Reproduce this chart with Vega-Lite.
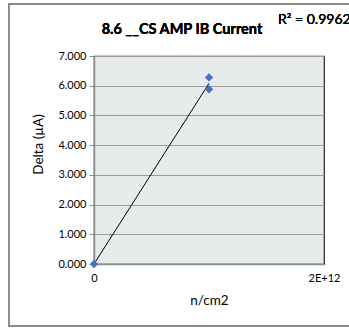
{
  "$schema": "https://vega.github.io/schema/vega-lite/v6.json",
  "autosize": "none",
  "width": 230,
  "height": 208,
  "padding": {"left": 94, "top": 56, "right": 25, "bottom": 71},
  "background": "white",
  "config": {
    "font": "Lato",
    "view": {"fill": "#E6ECEC", "stroke": "#222222", "strokeWidth": 1.2}
  },
  "data": {
    "values": [
      {"flux": 0, "delta": 0},
      {"flux": 1000000000000, "delta": 6.28},
      {"flux": 1000000000000, "delta": 5.88}
    ]
  },
  "encoding": {
    "x": {
      "type": "quantitative",
      "scale": {"domain": [0, 2000000000000], "nice": false},
      "axis": {
        "values": [0, 2000000000000],
        "labelExpr": "datum.value == 0 ? '0' : '2E+12'",
        "title": "n/cm2",
        "titleFontSize": 13.5,
        "titleFontWeight": "normal",
        "titleColor": "#000000",
        "titlePadding": 10,
        "labelFontSize": 11,
        "labelColor": "#000000",
        "labelPadding": 8,
        "labelFlush": false,
        "ticks": false,
        "grid": false,
        "domainColor": "#8c8c8c",
        "domainWidth": 1.5
      }
    },
    "y": {
      "type": "quantitative",
      "scale": {"domain": [0, 7], "nice": false},
      "axis": {
        "values": [0, 1, 2, 3, 4, 5, 6, 7],
        "format": ".3f",
        "labelOverlap": false,
        "title": "Delta (µA)",
        "titleFontSize": 13.5,
        "titleFontWeight": "normal",
        "titleColor": "#000000",
        "titlePadding": 12,
        "titleAnchor": "middle",
        "titleY": 88,
        "labelFontSize": 11,
        "labelColor": "#000000",
        "labelPadding": 3,
        "tickColor": "#8c8c8c",
        "tickSize": 5,
        "grid": true,
        "gridColor": "#9a9a9a",
        "gridWidth": 1,
        "domainColor": "#8c8c8c",
        "domainWidth": 1.5
      }
    }
  },
  "layer": [
    {
      "transform": [{"regression": "delta", "on": "flux"}],
      "mark": {"type": "line", "color": "#000000", "strokeWidth": 1},
      "encoding": {
        "x": {"field": "flux", "type": "quantitative"},
        "y": {"field": "delta", "type": "quantitative"}
      }
    },
    {
      "mark": {"type": "point", "shape": "diamond", "filled": true, "color": "#4472C4", "size": 70, "opacity": 1},
      "encoding": {
        "x": {"field": "flux", "type": "quantitative"},
        "y": {"field": "delta", "type": "quantitative"}
      }
    },
    {
      "mark": {"type": "rect", "fill": null, "stroke": "#8c8c8c", "strokeWidth": 1.5, "clip": false},
      "encoding": {
        "x": {"datum": -740000000000, "type": "quantitative"},
        "x2": {"datum": 2400000000000},
        "y": {"datum": 8.75, "type": "quantitative"},
        "y2": {"datum": -2.09}
      }
    },
    {
      "mark": {"type": "text", "text": "8.6 __CS AMP IB Current", "align": "center", "baseline": "middle", "fontSize": 14.5, "fontWeight": "bold", "font": "Lato", "color": "#000000", "clip": false},
      "encoding": {
        "x": {"datum": 765000000000, "type": "quantitative"},
        "y": {"datum": 7.88, "type": "quantitative"}
      }
    },
    {
      "mark": {"type": "text", "text": "R² = 0.9962", "align": "left", "baseline": "middle", "fontSize": 14, "fontWeight": "normal", "font": "Lato", "color": "#000000", "clip": false},
      "encoding": {
        "x": {"datum": 1600000000000, "type": "quantitative"},
        "y": {"datum": 8.2, "type": "quantitative"}
      }
    }
  ]
}
